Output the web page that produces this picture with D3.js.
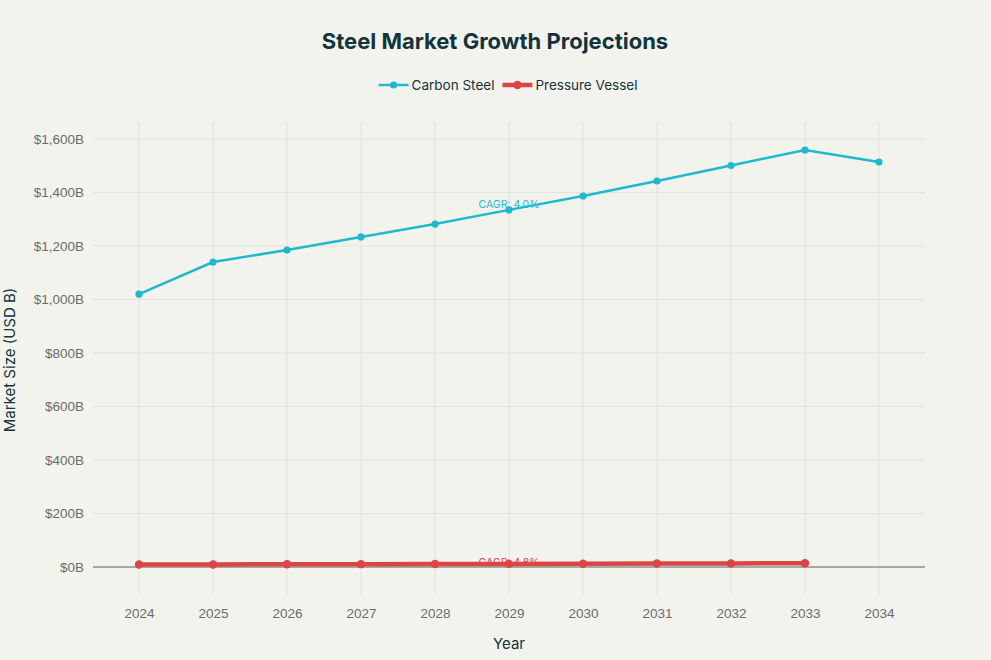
<!DOCTYPE html>
<html><head><meta charset="utf-8">
<script src="https://cdn.jsdelivr.net/npm/d3@7"></script>
<style>
body{margin:0;background:#F3F3EE;}
svg{display:block;font-family:Inter,"Open Sans",sans-serif;}
</style></head>
<body><svg id="c" width="991" height="660"></svg>
<script>
const years = [2024,2025,2026,2027,2028,2029,2030,2031,2032,2033,2034];
const carbonSteel = [1020,1140,1185,1234,1282,1335,1387,1443,1501,1559,1514];
const pvYears = [2024,2025,2026,2027,2028,2029,2030,2031,2032,2033];
const pressureVessel = [9.2,9.6,10.1,10.6,11.1,11.6,12.2,12.8,13.4,14.0];
const yTicks = [0,200,400,600,800,1000,1200,1400,1600];
const seriesNames = ["Carbon Steel","Pressure Vessel"];
const colors = ["#1FB8CD","#DB4545"];
const cagrLabels = ["CAGR: 4.0%","CAGR: 4.8%"];

const svg = d3.select("#c");
const L=93,R=925,T=122,B=595;
const x = d3.scaleLinear().domain([2023.378,2034.622]).range([L,R]);
const y = d3.scaleLinear().domain([-104.7,1663.6]).range([B,T]);

// grid
svg.append("g").selectAll("line").data(years).join("line")
  .attr("x1",d=>x(d)).attr("x2",d=>x(d)).attr("y1",T).attr("y2",B)
  .attr("stroke","#E3E3DE").attr("stroke-width",1);
svg.append("g").selectAll("line").data(yTicks.filter(d=>d>0)).join("line")
  .attr("x1",L).attr("x2",R).attr("y1",d=>y(d)).attr("y2",d=>y(d))
  .attr("stroke","#E3E3DE").attr("stroke-width",1);
svg.append("line").attr("x1",L).attr("x2",R).attr("y1",y(0)).attr("y2",y(0))
  .attr("stroke","#8F8F8F").attr("stroke-width",1.5);

// axes
const yAxis = d3.axisLeft(y).tickValues(yTicks).tickSize(0).tickPadding(9)
  .tickFormat(d=>"$"+d3.format(",")(d)+"B");
const gy = svg.append("g").attr("transform",`translate(${L},0)`).call(yAxis);
gy.select(".domain").remove();
gy.selectAll("text").attr("fill","#6B6B6B").attr("font-size",13.5);

const xAxis = d3.axisBottom(x).tickValues(years).tickSize(0).tickPadding(13).tickFormat(d3.format("d"));
const gx = svg.append("g").attr("transform",`translate(0,${B})`).call(xAxis);
gx.select(".domain").remove();
gx.selectAll("text").attr("fill","#6B6B6B").attr("font-size",13.5);

// lines
const line = d3.line().x(d=>x(d[0])).y(d=>y(d[1]));
const cs = years.map((yr,i)=>[yr,carbonSteel[i]]);
const pv = pvYears.map((yr,i)=>[yr,pressureVessel[i]]);
svg.append("path").datum(cs).attr("d",line).attr("fill","none")
  .attr("stroke",colors[0]).attr("stroke-width",2.5);
svg.append("g").selectAll("circle").data(cs).join("circle")
  .attr("cx",d=>x(d[0])).attr("cy",d=>y(d[1])).attr("r",3.6).attr("fill",colors[0]);
svg.append("path").datum(pv).attr("d",line).attr("fill","none")
  .attr("stroke",colors[1]).attr("stroke-width",4.5);
svg.append("g").selectAll("circle").data(pv).join("circle")
  .attr("cx",d=>x(d[0])).attr("cy",d=>y(d[1])).attr("r",4.2).attr("fill",colors[1]);

// annotations
svg.append("text").attr("x",x(2029)).attr("y",y(1335)-2).attr("text-anchor","middle")
  .attr("font-size",10.5).attr("fill",colors[0]).text(cagrLabels[0]);
svg.append("text").attr("x",x(2029)).attr("y",y(11.6)+2).attr("text-anchor","middle")
  .attr("font-size",10.5).attr("fill",colors[1]).text(cagrLabels[1]);

// title
svg.append("text").attr("x",495).attr("y",49).attr("text-anchor","middle")
  .attr("font-size",22).attr("font-weight",700).attr("fill","#13343B").text("Steel Market Growth Projections");

// legend
const lg = svg.append("g");
let lx = 386;
seriesNames.forEach((name,i)=>{
  lg.append("line").attr("x1",lx).attr("x2",lx+30).attr("y1",85).attr("y2",85)
    .attr("stroke",colors[i]).attr("stroke-width",i?4.5:2.5);
  lg.append("circle").attr("cx",lx+15).attr("cy",85).attr("r",i?4.2:3.6).attr("fill",colors[i]);
  const t = lg.append("text").attr("x",lx+33).attr("y",90).attr("font-size",13.5).attr("fill","#13343B").text(name);
  lx = lx + 33 + t.node().getComputedTextLength() + 8;
});
// recentre legend
const bb = lg.node().getBBox();
lg.attr("transform",`translate(${508 - (bb.x + bb.width/2)},0)`);

// axis titles
svg.append("text").attr("x",x(2029)).attr("y",649).attr("text-anchor","middle")
  .attr("font-size",15).attr("fill","#13343B").text("Year");
svg.append("text").attr("transform",`translate(15,360) rotate(-90)`).attr("text-anchor","middle")
  .attr("font-size",15).attr("fill","#13343B").text("Market Size (USD B)");
</script></body></html>
